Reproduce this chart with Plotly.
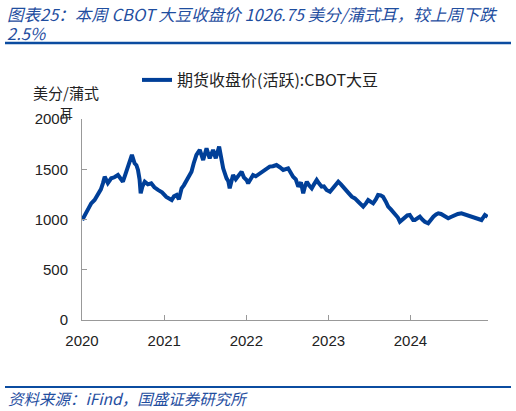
import plotly.graph_objects as go

dates = [
    "2020-01-02","2020-01-13","2020-01-27","2020-02-11","2020-02-26","2020-03-12","2020-03-25","2020-04-03",
    "2020-04-11","2020-04-19","2020-04-25","2020-05-10","2020-05-24","2020-06-09","2020-06-20","2020-07-01",
    "2020-07-12","2020-07-23","2020-08-01","2020-08-10","2020-08-22","2020-08-30","2020-09-06","2020-09-13",
    "2020-09-18","2020-09-26","2020-10-06","2020-10-20","2020-11-04","2020-11-18","2020-12-04","2020-12-22",
    "2021-01-10","2021-02-03","2021-02-13","2021-02-25","2021-03-07","2021-03-19","2021-03-29","2021-04-10",
    "2021-04-20","2021-05-02","2021-05-12","2021-05-24","2021-06-08","2021-06-23","2021-07-08","2021-07-22",
    "2021-08-06","2021-08-18","2021-09-02","2021-09-10","2021-09-20","2021-10-05","2021-10-13","2021-10-19",
    "2021-11-03","2021-11-15","2021-11-25","2021-12-11","2021-12-21","2022-01-02","2022-01-09","2022-01-21",
    "2022-01-31","2022-02-12","2022-03-02","2022-03-24","2022-04-15","2022-04-29","2022-05-15","2022-05-30",
    "2022-06-14","2022-07-06","2022-07-16","2022-07-28","2022-08-09","2022-08-20","2022-09-01","2022-09-11",
    "2022-09-19","2022-09-27","2022-10-07","2022-10-19","2022-10-29","2022-11-10","2022-11-20","2022-12-02",
    "2022-12-12","2022-12-24","2023-01-08","2023-01-26","2023-02-14","2023-02-26","2023-03-16","2023-03-29",
    "2023-04-15","2023-04-29","2023-05-14","2023-05-26","2023-06-05","2023-06-17","2023-06-27","2023-07-09",
    "2023-07-19","2023-07-31","2023-08-10","2023-08-22","2023-09-01","2023-09-13","2023-09-24","2023-10-06",
    "2023-10-23","2023-11-06","2023-11-15","2023-11-26","2023-12-07","2023-12-18","2023-12-29","2024-01-13",
    "2024-01-21","2024-02-01","2024-02-12","2024-02-23","2024-03-05","2024-03-20","2024-04-01","2024-04-12",
    "2024-04-24","2024-05-04","2024-05-16","2024-05-26","2024-06-07","2024-06-17","2024-06-29","2024-07-17",
    "2024-07-30","2024-08-15","2024-08-30","2024-09-14","2024-09-28","2024-10-14","2024-10-27","2024-11-12",
    "2024-11-27","2024-12-09",
]
prices = [
    995, 1045, 1090, 1160, 1194, 1244, 1300, 1360,
    1426, 1390, 1363, 1410, 1420, 1443, 1410, 1376,
    1450, 1525, 1580, 1642, 1559, 1540, 1493, 1400,
    1261, 1330, 1376, 1350, 1360, 1320, 1294, 1270,
    1225, 1194, 1230, 1244, 1200, 1310, 1340, 1393,
    1420, 1476, 1560, 1642, 1692, 1592, 1708, 1609,
    1692, 1609, 1725, 1640, 1509, 1410, 1380, 1310,
    1443, 1400, 1426, 1476, 1420, 1393, 1360, 1400,
    1443, 1430, 1459, 1493, 1526, 1530, 1542, 1520,
    1493, 1509, 1470, 1426, 1400, 1327, 1370, 1261,
    1330, 1376, 1340, 1310, 1350, 1393, 1360, 1327,
    1330, 1294, 1277, 1330, 1376, 1350, 1310, 1270,
    1227, 1210, 1177, 1150, 1128, 1160, 1194, 1175,
    1161, 1200, 1244, 1240, 1227, 1180, 1128, 1100,
    1062, 1020, 978, 1000, 1028, 1040, 1045, 995,
    995, 1010, 1028, 1000, 978, 962, 1000, 1028,
    1050, 1062, 1055, 1045, 1030, 1012, 1025, 1045,
    1055, 1062, 1050, 1045, 1035, 1012, 1005, 995,
    1045, 1026,
]
series_name = "期货收盘价(活跃):CBOT大豆"
y_ticks = [0, 500, 1000, 1500, 2000]
x_ticks = ["2020-01-01", "2021-01-01", "2022-01-01", "2023-01-01", "2024-01-01"]
x_tick_labels = ["2020", "2021", "2022", "2023", "2024"]
title_line1 = "图表25：本周 CBOT 大豆收盘价 1026.75 美分/蒲式耳，较上周下跌"
title_line2 = "2.5%"
source_text = "资料来源：iFind，国盛证券研究所"
unit_line1 = "美分/蒲式"
unit_line2 = "耳"

LINE = "#003F98"
BLUE = "#1F4E9F"
FONT = "Liberation Sans, Noto Sans CJK SC, sans-serif"
CJK = "Noto Sans CJK SC, sans-serif"

W, H = 516, 411
L, R, T, B = 82, 28, 119, 91
pw, ph = W - L - R, H - T - B

def px(x):
    return (x - L) / pw

def py(y):
    return (H - B - y) / ph

fig = go.Figure()
fig.add_trace(go.Scatter(
    x=dates, y=prices, mode="lines", name=series_name,
    line=dict(color=LINE, width=4),
))

fig.update_layout(
    width=W, height=H,
    margin=dict(l=L, r=R, t=T, b=B),
    paper_bgcolor="white", plot_bgcolor="white",
    font=dict(family=FONT, size=14, color="#222"),
    showlegend=True,
    legend=dict(
        x=px(137), y=py(80), xanchor="left", yanchor="middle",
        font=dict(family=CJK, size=16, color="#222"),
        bgcolor="rgba(0,0,0,0)", itemwidth=30,
    ),
    xaxis=dict(
        type="date", range=["2020-01-01", "2024-12-11"],
        tickvals=x_ticks, ticktext=x_tick_labels,
        ticks="inside", ticklen=5, tickcolor="#999",
        showline=True, linecolor="#999", linewidth=1,
        showgrid=False, zeroline=False,
        tickfont=dict(size=15, color="#222"),
        ticklabelstandoff=7,
    ),
    yaxis=dict(
        range=[0, 2000], tickvals=y_ticks,
        ticks="inside", ticklen=5, tickcolor="#999",
        showline=True, linecolor="#999", linewidth=1,
        showgrid=False, zeroline=False,
        tickfont=dict(size=15, color="#222"),
        ticklabelstandoff=10,
    ),
)

fig.add_annotation(
    xref="paper", yref="paper", x=px(5), y=py(14), xanchor="left", yanchor="middle",
    text=title_line1, showarrow=False, align="left",
    font=dict(family=CJK, size=16.5, color=BLUE, style="italic"),
)
fig.add_annotation(
    xref="paper", yref="paper", x=px(5), y=py(33), xanchor="left", yanchor="middle",
    text=title_line2, showarrow=False, align="left",
    font=dict(family=CJK, size=16.5, color=BLUE, style="italic"),
)
fig.add_annotation(
    xref="paper", yref="paper", x=px(66), y=py(92), xanchor="center", yanchor="middle",
    text=unit_line1, showarrow=False,
    font=dict(family=CJK, size=15, color="#222"),
)
fig.add_annotation(
    xref="paper", yref="paper", x=px(66), y=py(112), xanchor="center", yanchor="middle",
    text=unit_line2, showarrow=False,
    font=dict(family=CJK, size=13, color="#222"),
)
fig.add_annotation(
    xref="paper", yref="paper", x=px(6), y=py(398), xanchor="left", yanchor="middle",
    text=source_text, showarrow=False, align="left",
    font=dict(family=CJK, size=15.5, color=BLUE, style="italic"),
)
fig.add_shape(type="line", xref="paper", yref="paper",
              x0=px(5), x1=px(511), y0=py(43), y1=py(43),
              line=dict(color="#0B4CA0", width=2.5))
fig.add_shape(type="line", xref="paper", yref="paper",
              x0=px(5), x1=px(511), y0=py(387), y1=py(387),
              line=dict(color="#0B4CA0", width=2))

fig.write_html(
    "out.html",
    config={"displayModeBar": False},
    post_script="document.body.style.margin='0';document.body.style.padding='0';",
)
